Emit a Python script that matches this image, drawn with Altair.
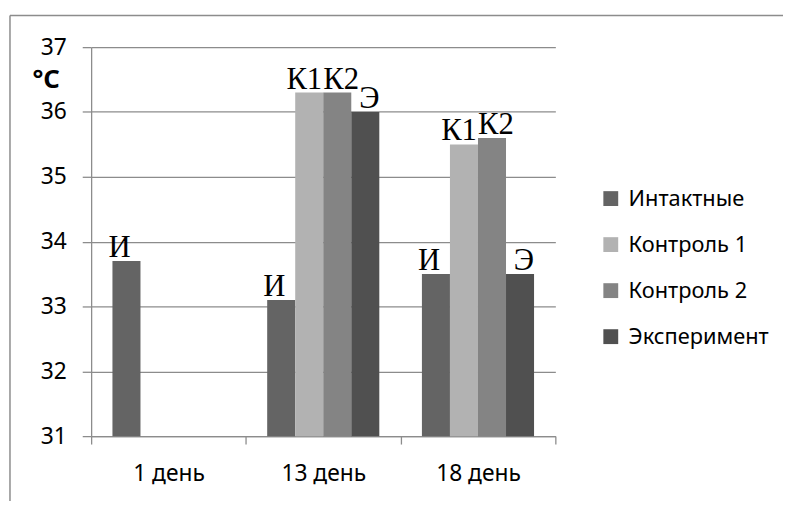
import altair as alt
import pandas as pd

days = ["1 день", "13 день", "18 день"]
series = ["Интактные", "Контроль 1", "Контроль 2", "Эксперимент"]
abbrev = ["И", "К1", "К2", "Э"]
intact = [33.7, 33.1, 33.5]
control1 = [None, 36.3, 35.5]
control2 = [None, 36.3, 35.6]
experiment = [None, 36.0, 33.5]
y_ticks = [31, 32, 33, 34, 35, 36, 37]
colors = ["#646464", "#b2b2b2", "#848484", "#505050"]

rows = []
for s, ab, vals in zip(series, abbrev, [intact, control1, control2, experiment]):
    for d, v in zip(days, vals):
        if v is not None:
            rows.append({"day": d, "series": s, "abbr": ab, "value": v})
df = pd.DataFrame(rows)

FONT = "Noto Sans"
W, H = 469, 393

x_enc = alt.X("day:N", sort=days, scale=alt.Scale(domain=days, paddingInner=0, paddingOuter=0),
              axis=alt.Axis(title=None, labelAngle=0, tickBand="extent", tickSize=8,
                            labelPadding=19, labelFont=FONT, labelFontSize=23,
                            labelColor="black", domainColor="#8c8c8c", tickColor="#8c8c8c",
                            domainWidth=1.3, tickWidth=1.3, grid=False))
xo_enc = alt.XOffset("series:N", sort=series,
                     scale=alt.Scale(domain=series, paddingInner=0, paddingOuter=0.76))
y_enc = alt.Y("value:Q", scale=alt.Scale(domain=[31, 37], zero=False, nice=False),
              axis=alt.Axis(values=y_ticks, format="d", title="°C", titleAngle=0, titleX=-46,
                            titleY=33, titleAlign="center", titleBaseline="middle",
                            titleFont=FONT, titleFontSize=26, titleFontWeight="bold",
                            titleColor="black", tickSize=9, labelPadding=16, labelFont=FONT,
                            labelFontSize=23, labelColor="black", grid=True,
                            gridColor="#8c8c8c", gridWidth=1.3, domainColor="#8c8c8c",
                            tickColor="#8c8c8c", domainWidth=1.3, tickWidth=1.3))

bars = alt.Chart(df).mark_bar().encode(
    x=x_enc,
    xOffset=xo_enc,
    y=y_enc,
    y2=alt.datum(31),
    color=alt.Color("series:N", sort=series,
                    scale=alt.Scale(domain=series, range=colors),
                    legend=alt.Legend(title=None, orient="none", legendX=514, legendY=142,
                                      symbolType="square", symbolSize=225, symbolStrokeWidth=0,
                                      labelFont=FONT, labelFontSize=22, labelColor="black",
                                      labelOffset=7, rowPadding=24.5, padding=0,
                                      labelLimit=300)),
)

label_dx = {"И": -7, "К1": -5, "К2": 4, "Э": 4}
label_layers = []
for ab in abbrev:
    label_layers.append(
        alt.Chart(df).transform_filter(alt.datum.abbr == ab).mark_text(
            font="Liberation Serif", fontSize=31, baseline="alphabetic", dy=-4,
            dx=label_dx[ab], color="black"
        ).encode(x=alt.X("day:N", sort=days), xOffset=alt.XOffset("series:N", sort=series),
                 y="value:Q", text="abbr:N")
    )

frame_df = pd.DataFrame({"a": [0]})
frame_top = alt.Chart(frame_df).mark_rule(color="#8c8c8c", strokeWidth=1.5).encode(
    x=alt.value(-82), x2=alt.value(800), y=alt.value(-32))
frame_left = alt.Chart(frame_df).mark_rule(color="#8c8c8c", strokeWidth=1.5).encode(
    x=alt.value(-82), y=alt.value(-32), y2=alt.value(600))

chart = alt.layer(bars, *label_layers, frame_top, frame_left).properties(
    width=W, height=H,
    autosize=alt.AutoSizeParams(type="none"),
    padding={"left": 84, "top": 37, "right": 230, "bottom": 63},
).configure_view(stroke=None)

chart.save("out.html", embed_options={"renderer": "svg", "actions": False})
